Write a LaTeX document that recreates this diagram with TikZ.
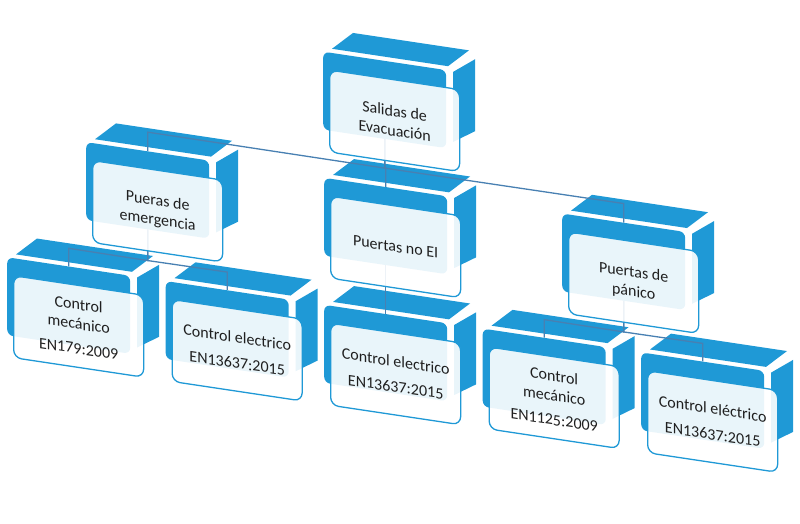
\documentclass[tikz,border=0pt]{standalone}
\usepackage{fontspec}
\setmainfont{Carlito}
\usetikzlibrary{calc}
\pgfdeclarelayer{back}
\pgfsetlayers{back,main}
\definecolor{brickblue}{RGB}{31,153,214}
\definecolor{linkblue}{RGB}{72,128,178}
\tikzset{
  face/.style={fill=brickblue},
  panel/.style={fill=brickblue, rounded corners=6pt, minimum width=123pt,
    minimum height=78pt, inner sep=0pt, anchor=north west, transform shape},
  card/.style={draw=brickblue, line width=1.3pt, fill=white, fill opacity=0.9,
    text opacity=1, rounded corners=8pt, minimum width=130pt, minimum height=82pt,
    inner sep=0pt, anchor=north west, align=center, transform shape,
    font=\fontsize{16}{19.5}\selectfont, text=black!88},
  link/.style={draw=linkblue, line width=1.3pt}
}
% one 3d brick: name, top left corner of the card, text
\newcommand\brick[3]{%
  \begin{scope}[shift={#2}]
    \begin{pgfonlayer}{back}
      \fill[face] (3,-21) -- (24,-40) -- (140,-40) -- (119,-21) -- cycle;
      \fill[face] (124,-16) -- (146,-32) -- (146,40) -- (124,54) -- cycle;
    \end{pgfonlayer}
    \node[panel] (#1) at (-6,-17) {};
    \node[card] (#1-card) at (0,0) {#3};
  \end{scope}}

\begin{document}
\begin{tikzpicture}[x=1pt, y=-1pt]
  \useasboundingbox (0,0) rectangle (800,524);
  \begin{scope}[yslant=-0.15]
    % top
    \brick{salidas}{(329,20)}{Salidas de\\Evacuación}
    % second row
    \brick{emerg}{(92,146)}{Pueras de\\emergencia}
    \brick{noei}{(330,146)}{Puertas no EI}
    \brick{panico}{(568,146)}{Puertas de\\pánico}
    % third row
    \brick{cmA}{(13,273)}{Control\\mecánico\\[5pt]EN179:2009}
    \brick{ceA}{(171.5,273)}{Control electrico\\[6pt]EN13637:2015}
    \brick{ceB}{(330,273)}{Control electrico\\[6pt]EN13637:2015}
    \brick{cmB}{(488.5,273)}{Control\\mecánico\\[5pt]EN1125:2009}
    \brick{ceC}{(647,273)}{Control eléctrico\\[6pt]EN13637:2015}
    % connectors, behind the cards
    \begin{pgfonlayer}{back}
      \foreach \ch in {emerg, noei, panico}
        \draw[link] (salidas.south) -- ++(0,29) -- ($(\ch.north)+(0,-19)$) -- (\ch.north);
      \foreach \pa/\ch in {emerg/cmA, emerg/ceA, panico/cmB, panico/ceC}
        \draw[link] (\pa.south) -- ++(0,31) -- ($(\ch.north)+(0,-18)$) -- (\ch.north);
      \draw[link] (noei.south) -- (ceB.north);
    \end{pgfonlayer}
  \end{scope}
\end{tikzpicture}
\end{document}
